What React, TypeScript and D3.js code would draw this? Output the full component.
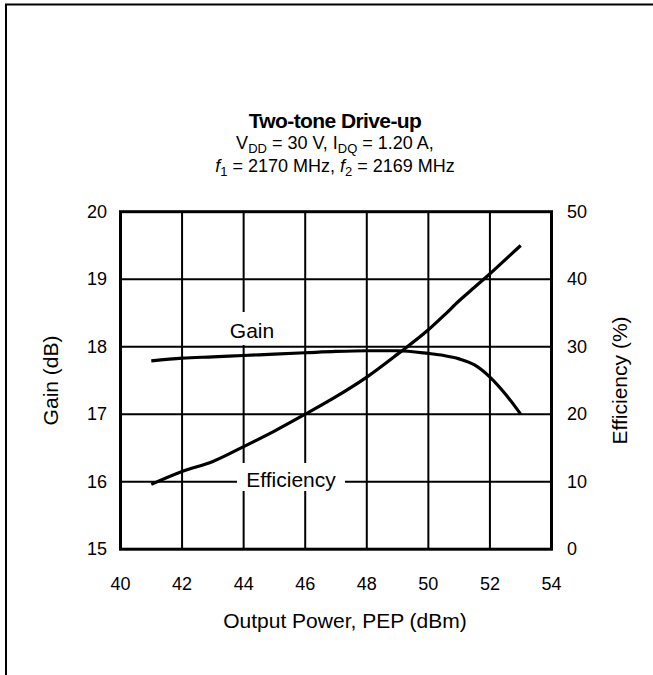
import { useEffect, useRef } from "react";
import * as d3 from "d3";

// output power (dBm) sample points
const power = [41, 42, 43, 44, 45, 46, 47, 48, 49, 50, 50.5, 51, 51.5, 52, 52.5, 53];
const gain = [17.79, 17.83, 17.85, 17.87, 17.89, 17.91, 17.93, 17.94, 17.94, 17.9, 17.87, 17.82, 17.73, 17.55, 17.3, 17.0];
const efficiency = [9.6, 11.5, 13.0, 15.2, 17.5, 20.0, 22.6, 25.5, 28.9, 32.5, 34.6, 36.8, 38.8, 40.8, 42.9, 45.0];

const xTicks = [40, 42, 44, 46, 48, 50, 52, 54];
const gainTicks = [15, 16, 17, 18, 19, 20];
const effTicks = [0, 10, 20, 30, 40, 50];

const W = 653;
const H = 675;
const FONT = "Arial, 'Liberation Sans', sans-serif";

export default function App() {
  const svgRef = useRef<SVGSVGElement | null>(null);

  useEffect(() => {
    if (!svgRef.current) return;
    const svg = d3.select(svgRef.current);
    svg.selectAll("*").remove();

    const left = 120.5, right = 551.5, top = 211.7, bottom = 549.2;
    const x = d3.scaleLinear().domain([40, 54]).range([left, right]);
    const yG = d3.scaleLinear().domain([15, 20]).range([bottom, top]);
    const yE = d3.scaleLinear().domain([0, 50]).range([bottom, top]);

    svg.append("rect").attr("width", W).attr("height", H).attr("fill", "#fff");

    // page frame (top and left edges visible)
    svg.append("line").attr("x1", 5).attr("x2", W).attr("y1", 4.5).attr("y2", 4.5)
      .attr("stroke", "#000").attr("stroke-width", 2);
    svg.append("line").attr("x1", 6).attr("x2", 6).attr("y1", 4).attr("y2", H)
      .attr("stroke", "#000").attr("stroke-width", 2);

    // title
    const t = svg.append("g").attr("font-family", FONT).attr("text-anchor", "middle").attr("fill", "#000");
    t.append("text").attr("x", 335).attr("y", 128).attr("font-size", 21).attr("font-weight", "bold")
      .attr("letter-spacing", -0.6).text("Two-tone Drive-up");
    const l1 = t.append("text").attr("x", 335).attr("y", 149).attr("font-size", 18);
    l1.append("tspan").text("V");
    l1.append("tspan").attr("dy", 4).attr("font-size", 13).text("DD");
    l1.append("tspan").attr("dy", -4).text(" = 30 V, I");
    l1.append("tspan").attr("dy", 4).attr("font-size", 13).text("DQ");
    l1.append("tspan").attr("dy", -4).text(" = 1.20 A,");
    const l2 = t.append("text").attr("x", 335).attr("y", 172).attr("font-size", 18);
    l2.append("tspan").attr("font-style", "italic").text("f");
    l2.append("tspan").attr("dy", 4).attr("font-size", 13).text("1");
    l2.append("tspan").attr("dy", -4).text(" = 2170  MHz, ");
    l2.append("tspan").attr("font-style", "italic").text("f");
    l2.append("tspan").attr("dy", 4).attr("font-size", 13).text("2");
    l2.append("tspan").attr("dy", -4).text(" = 2169 MHz");

    // grid
    const grid = svg.append("g").attr("stroke", "#000").attr("stroke-width", 2);
    xTicks.slice(1, -1).forEach(v => {
      grid.append("line").attr("x1", x(v)).attr("x2", x(v)).attr("y1", top).attr("y2", bottom);
    });
    gainTicks.slice(1, -1).forEach(v => {
      grid.append("line").attr("x1", left).attr("x2", right).attr("y1", yG(v)).attr("y2", yG(v));
    });

    // curves
    const lineG = d3.line<number>().x((_, i) => x(power[i])).y(d => yG(d)).curve(d3.curveMonotoneX);
    const lineE = d3.line<number>().x((_, i) => x(power[i])).y(d => yE(d)).curve(d3.curveMonotoneX);
    svg.append("path").attr("d", lineG(gain)).attr("fill", "none").attr("stroke", "#000").attr("stroke-width", 3.2);
    svg.append("path").attr("d", lineE(efficiency)).attr("fill", "none").attr("stroke", "#000").attr("stroke-width", 3.2);

    // inline labels with white boxes
    const lab = svg.append("g").attr("font-family", FONT).attr("font-size", 21).attr("text-anchor", "middle");
    lab.append("rect").attr("x", 221).attr("y", 312).attr("width", 60).attr("height", 33).attr("fill", "#fff");
    lab.append("text").attr("x", 252).attr("y", 338).text("Gain");
    lab.append("rect").attr("x", 237).attr("y", 463).attr("width", 108).attr("height", 28).attr("fill", "#fff");
    lab.append("text").attr("x", 291).attr("y", 487).text("Efficiency");

    // frame
    svg.append("rect").attr("x", left).attr("y", top).attr("width", right - left).attr("height", bottom - top)
      .attr("fill", "none").attr("stroke", "#000").attr("stroke-width", 3);

    // tick labels
    const tk = svg.append("g").attr("font-family", FONT).attr("font-size", 18).attr("fill", "#000");
    gainTicks.forEach(v => {
      tk.append("text").attr("x", 107).attr("y", yG(v) + 6).attr("text-anchor", "end").text(v);
    });
    effTicks.forEach(v => {
      tk.append("text").attr("x", 567).attr("y", yE(v) + 6).attr("text-anchor", "start").text(v);
    });
    xTicks.forEach(v => {
      tk.append("text").attr("x", x(v)).attr("y", 590).attr("text-anchor", "middle").text(v);
    });

    // axis titles
    const at = svg.append("g").attr("font-family", FONT).attr("font-size", 21).attr("fill", "#000").attr("text-anchor", "middle");
    at.append("text").attr("x", 345).attr("y", 628).text("Output Power, PEP (dBm)");
    at.append("text").attr("transform", `translate(58,${(top + bottom) / 2}) rotate(-90)`).text("Gain (dB)");
    at.append("text").attr("transform", `translate(627,${(top + bottom) / 2}) rotate(-90)`).text("Efficiency (%)");
  }, []);

  return (
    <svg ref={svgRef} width={W} height={H}
      style={{ position: "absolute", left: 0, top: 0, display: "block" }} />
  );
}
